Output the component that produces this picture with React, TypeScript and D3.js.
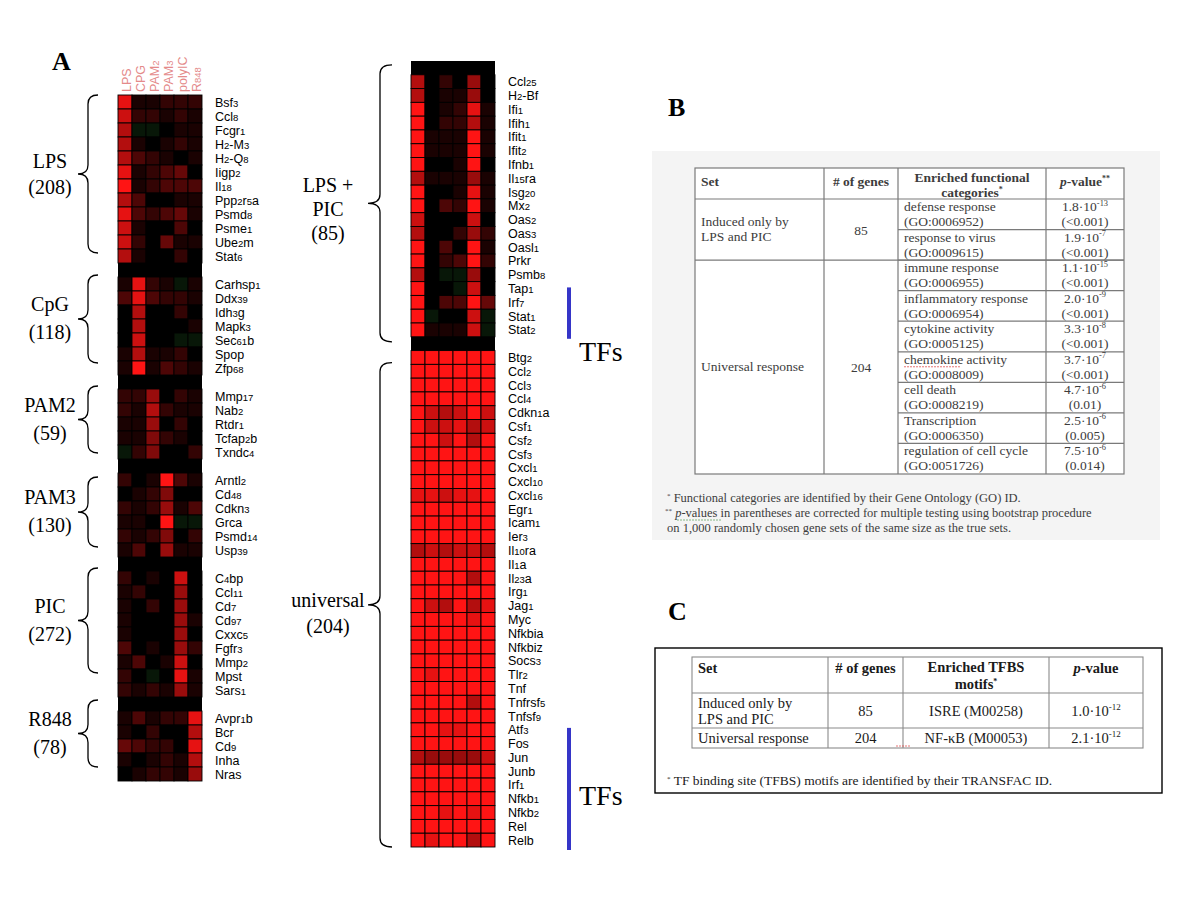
import React from "react";
import * as d3 from "d3";

// stimulus columns of both heatmaps
const conditions = ["LPS", "CPG", "PAM2", "PAM3", "polyIC", "R848"];

// left heatmap: genes induced by a single stimulus (0 = black, 10 = bright red, <0 = green)
const lpsGenes = ["Bsf3", "Ccl8", "Fcgr1", "H2-M3", "H2-Q8", "Iigp2", "Il18", "Ppp2r5a", "Psmd8", "Psme1", "Ube2m", "Stat6"];
const lpsValues = [
  [9, 1, 1, 2, 2, 2], [8, 2, 2, 1, 2, 1], [7, -1, -1, 0, 1, 1], [7, 1, 0, 1, 2, 1],
  [7, 3, 2, 1, 0, 1], [9, 1, 2, 3, 4, 0], [10, 1, 2, 3, 3, 3], [7, 3, 0, 0, 1, 1],
  [9, 3, 2, 3, 4, 1], [8, 1, 0, 0, 3, 0], [8, 2, 0, 4, 1, 1], [7, 1, 0, 0, 2, 0],
];
const cpgGenes = ["Carhsp1", "Ddx39", "Idh3g", "Mapk3", "Sec61b", "Spop", "Zfp68"];
const cpgValues = [
  [1, 9, 2, 1, -1, 1], [3, 9, 3, 2, 2, 1], [0, 7, 0, 0, 2, 0], [0, 7, 0, 0, 0, 1],
  [0, 8, 0, 0, -1, -1], [1, 7, 1, 1, 2, 0], [1, 10, 1, 3, 2, 1],
];
const pam2Genes = ["Mmp17", "Nab2", "Rtdr1", "Tcfap2b", "Txndc4"];
const pam2Values = [
  [2, 2, 6, 0, 2, 1], [2, 1, 7, 2, 1, 1], [1, 1, 6, 0, 2, 0], [1, 1, 5, 2, 1, 0], [-1, 2, 5, 0, 0, 2],
];
const pam3Genes = ["Arntl2", "Cd48", "Cdkn3", "Grca", "Psmd14", "Usp39"];
const pam3Values = [
  [2, 0, 1, 10, 3, 1], [0, 1, 2, 5, 0, 0], [2, 1, 2, 6, 1, 3],
  [1, 1, 0, 10, -1, -1], [2, 1, 2, 5, 0, 2], [1, 3, 0, 6, 1, 1],
];
const picGenes = ["C4bp", "Ccl11", "Cd7", "Cd97", "Cxxc5", "Fgfr3", "Mmp2", "Mpst", "Sars1"];
const picValues = [
  [2, 0, 1, 0, 8, 0], [1, 2, 0, 0, 6, 0], [1, 0, 2, 0, 6, 0], [1, 0, 0, 0, 6, 1], [1, 0, 0, 0, 6, 0],
  [3, 0, 1, 0, 6, 2], [1, 3, 0, 1, 8, 0], [2, 0, -1, 0, 9, 1], [2, 1, 2, 1, 6, 1],
];
const r848Genes = ["Avpr1b", "Bcr", "Cd9", "Inha", "Nras"];
const r848Values = [
  [1, 3, 1, 2, 2, 9], [1, 0, 2, 0, 0, 7], [4, 3, 2, 2, 0, 9], [1, 0, 1, 2, 1, 7], [0, 1, 2, 2, 1, 6],
];

// right heatmap: shared responses
const lpsPicGenes = ["Ccl25", "H2-Bf", "Ifi1", "Ifih1", "Ifit1", "Ifit2", "Ifnb1", "Il15ra", "Isg20", "Mx2",
  "Oas2", "Oas3", "Oasl1", "Prkr", "Psmb8", "Tap1", "Irf7", "Stat1", "Stat2"];
const lpsPicValues = [
  [7, 0, 2, 0, 6, 0], [7, 0, 1, 1, 6, 0], [10, 0, 1, 2, 9, 1], [10, 0, 2, 2, 7, 1], [10, 1, 1, 1, 10, 1],
  [10, 1, 1, 1, 10, 1], [10, 0, 0, 1, 10, 0], [7, 1, 1, 1, 6, 1], [10, 0, 0, 1, 9, 1], [10, 0, 3, 2, 10, 1],
  [8, 0, 0, 0, 8, 0], [7, 0, 0, 2, 6, 2], [10, 0, 3, 0, 10, 1], [10, 0, 2, 3, 10, 2], [7, 0, -1, -1, 6, 0],
  [10, 0, 0, -1, 8, 0], [10, 0, 3, 3, 10, 4], [10, -1, 0, 0, 8, -1], [10, 1, 1, 1, 8, -1],
];
const universalGenes = ["Btg2", "Ccl2", "Ccl3", "Ccl4", "Cdkn1a", "Csf1", "Csf2", "Csf3", "Cxcl1", "Cxcl10",
  "Cxcl16", "Egr1", "Icam1", "Ier3", "Il10ra", "Il1a", "Il23a", "Irg1", "Jag1", "Myc", "Nfkbia", "Nfkbiz",
  "Socs3", "Tlr2", "Tnf", "Tnfrsf5", "Tnfsf9", "Atf3", "Fos", "Jun", "Junb", "Irf1", "Nfkb1", "Nfkb2", "Rel", "Relb"];
const universalValues = [
  [10, 10, 10, 10, 10, 10], [10, 10, 10, 10, 10, 10], [10, 10, 10, 10, 10, 10], [10, 10, 10, 10, 10, 10],
  [10, 8, 7, 8, 10, 8], [10, 8, 8, 9, 7, 8], [10, 10, 8, 10, 7, 10], [10, 10, 10, 10, 10, 10],
  [10, 10, 10, 10, 10, 10], [10, 10, 10, 10, 10, 10], [9, 9, 8, 9, 9, 10], [10, 10, 10, 10, 10, 10],
  [10, 10, 10, 10, 10, 10], [10, 10, 10, 10, 10, 10], [7, 8, 7, 8, 8, 7], [10, 10, 10, 10, 10, 10],
  [10, 10, 10, 10, 7, 10], [10, 10, 10, 10, 10, 10], [10, 8, 7, 10, 7, 9], [10, 10, 10, 10, 9, 10],
  [10, 10, 10, 10, 10, 10], [10, 10, 10, 10, 10, 10], [10, 10, 10, 10, 10, 10], [10, 9, 10, 10, 10, 10],
  [10, 10, 10, 10, 10, 10], [10, 10, 10, 10, 7, 10], [10, 10, 10, 10, 10, 10], [10, 10, 9, 9, 10, 10],
  [10, 10, 10, 10, 10, 10], [7, 6, 6, 6, 6, 8], [10, 10, 10, 10, 10, 10], [10, 10, 10, 10, 10, 10],
  [10, 10, 10, 10, 10, 10], [10, 10, 9, 10, 9, 10], [10, 10, 10, 10, 10, 10], [10, 9, 10, 10, 7, 10],
];

// table B
const tableBSets = [["Induced only by", "LPS and PIC"], ["Universal response"]];
const tableBGeneCounts = ["85", "204"];
const tableBSpans = [2, 7];
const tableBCategories = ["defense response", "response to virus", "immune response", "inflammatory response",
  "cytokine activity", "chemokine activity", "cell death", "Transcription", "regulation of cell cycle"];
const tableBGoIds = ["GO:0006952", "GO:0009615", "GO:0006955", "GO:0006954", "GO:0005125",
  "GO:0008009", "GO:0008219", "GO:0006350", "GO:0051726"];
const tableBMantissas = ["1.8", "1.9", "1.1", "2.0", "3.3", "3.7", "4.7", "2.5", "7.5"];
const tableBExponents = ["-13", "-7", "-15", "-9", "-8", "-7", "-6", "-6", "-6"];
const tableBCorrected = ["(<0.001)", "(<0.001)", "(<0.001)", "(<0.001)", "(<0.001)", "(<0.001)", "(0.01)", "(0.005)", "(0.014)"];
const tableBNotes = [
  "Functional categories are identified by their Gene Ontology (GO) ID.",
  "p-values in parentheses are corrected for multiple testing using bootstrap procedure",
  "on 1,000 randomly chosen gene sets of the same size as the true sets.",
];

// table C
const tableCSets = [["Induced only by", "LPS and PIC"], ["Universal response"]];
const tableCGeneCounts = ["85", "204"];
const tableCMotifs = ["ISRE (M00258)", "NF-\u03baB (M00053)"];
const tableCMantissas = ["1.0", "2.1"];
const tableCExponents = ["-12", "-12"];
const tableCNote = "TF binding site (TFBS) motifs are identified by their TRANSFAC ID.";

const SERIF = "'Liberation Serif', 'Times New Roman', serif";
const SANS = "'Liberation Sans', Arial, sans-serif";

const posColor = d3.interpolateRgb("#000000", "#ff1414");
const negColor = d3.interpolateRgb("#000000", "#1f5a1f");
const cellColor = (v: number) => (v >= 0 ? posColor(v / 10) : negColor(-v / 4));

// digits drawn smaller, like the original gene labels
function smallDigits(name: string, big: number, small: number) {
  return name.split(/(\d+)/).filter((s) => s !== "").map((s, i) => (
    <tspan key={i} fontSize={/^\d+$/.test(s) ? small : big}>{s}</tspan>
  ));
}

function bracePath(xTip: number, xEnd: number, y0: number, y1: number) {
  const xm = (xTip + xEnd) / 2;
  const mid = (y0 + y1) / 2;
  const r = 9;
  const p = d3.path();
  p.moveTo(xEnd, y0);
  p.quadraticCurveTo(xm, y0, xm, y0 + r);
  p.lineTo(xm, mid - r);
  p.quadraticCurveTo(xm, mid, xTip, mid);
  p.quadraticCurveTo(xm, mid, xm, mid + r);
  p.lineTo(xm, y1 - r);
  p.quadraticCurveTo(xm, y1, xEnd, y1);
  return p.toString();
}

type Group = { genes: string[]; values: number[][]; label: string[] };
type Row = { gene: string | null; values: number[] | null };

function buildRows(groups: Group[], leadGap: boolean) {
  const rows: Row[] = [];
  if (leadGap) rows.push({ gene: null, values: null });
  const spans: { start: number; end: number }[] = [];
  groups.forEach((g, gi) => {
    if (gi > 0) rows.push({ gene: null, values: null });
    const start = rows.length;
    g.genes.forEach((gene, i) => rows.push({ gene, values: g.values[i] }));
    spans.push({ start, end: rows.length - 1 });
  });
  return { rows, spans };
}

function Heatmap(props: {
  groups: Group[]; leadGap: boolean; x0: number; x1: number; y0: number; y1: number;
  labelX: number; braceTip: number; braceEnd: number; textX: number;
  bracePad: [number, number][]; labelBase: number[][]; showHeader?: boolean;
}) {
  const { groups, leadGap, x0, x1, y0, y1 } = props;
  const { rows, spans } = buildRows(groups, leadGap);
  const x = d3.scaleBand<string>().domain(conditions).range([x0, x1]);
  const y = d3.scaleBand<number>().domain(d3.range(rows.length)).range([y0, y1]);
  const bw = x.bandwidth();
  const bh = y.bandwidth();
  return (
    <g>
      <rect x={x0} y={y0} width={x1 - x0} height={y1 - y0} fill="#000" />
      {rows.map((r, ri) =>
        r.values
          ? r.values.map((v, ci) => (
              <rect key={`${ri}-${ci}`} x={x(conditions[ci])} y={y(ri)} width={bw} height={bh}
                fill={cellColor(v)} stroke="#000" strokeWidth={0.9} />
            ))
          : null
      )}
      {rows.map((r, ri) =>
        r.gene ? (
          <text key={`l${ri}`} x={props.labelX} y={(y(ri) as number) + bh / 2 + 4.5}
            fontFamily={SANS} fill="#000">{smallDigits(r.gene, 12.5, 9.5)}</text>
        ) : null
      )}
      {props.showHeader &&
        conditions.map((c) => (
          <text key={c} transform={`translate(${(x(c) as number) + bw / 2},${y0 - 3}) rotate(-90)`}
            dy="0.36em" fontFamily={SANS} fill="#e48a8a">{smallDigits(c, 12.5, 9.5)}</text>
        ))}
      {spans.map((s, gi) => {
        const top = (y(s.start) as number) + props.bracePad[gi][0];
        const bottom = (y(s.end) as number) + bh + props.bracePad[gi][1];
        const mid = (top + bottom) / 2;
        return (
          <g key={`b${gi}`}>
            <path d={bracePath(props.braceTip, props.braceEnd, top, bottom)} fill="none" stroke="#000" strokeWidth={1.3} />
            {groups[gi].label.map((t, li) => (
              <text key={li} x={props.textX} y={mid + props.labelBase[gi][li]} textAnchor="middle"
                fontFamily={SERIF} fontSize={20} fill="#000">{t}</text>
            ))}
          </g>
        );
      })}
    </g>
  );
}

function PValue(props: { x: number; y: number; m: string; e: string; size: number; color: string }) {
  return (
    <text x={props.x} y={props.y} textAnchor="middle" fontFamily={SERIF} fontSize={props.size} fill={props.color}>
      {props.m}{"\u00b710"}
      <tspan dy={-props.size * 0.4} fontSize={props.size * 0.62}>{props.e}</tspan>
    </text>
  );
}

function TableB() {
  const cols = [695, 824, 898, 1046, 1124];
  const top = 168;
  const headBottom = 199;
  const rowH = (474 - headBottom) / tableBCategories.length;
  const ink = "#3c3c3c";
  const line = "#7a7a7a";
  const fs = 13.5;
  const rowTop = (i: number) => headBottom + i * rowH;
  let acc = 0;
  const setBlocks = tableBSets.map((s, i) => {
    const start = acc;
    acc += tableBSpans[i];
    return { name: s, count: tableBGeneCounts[i], start, end: acc };
  });
  return (
    <g>
      <rect x={652} y={151} width={508} height={389} fill="#f4f4f4" />
      <rect x={cols[0]} y={top} width={cols[4] - cols[0]} height={rowTop(tableBCategories.length) - top} fill="#fff" stroke={line} strokeWidth={1.2} />
      <line x1={cols[0]} x2={cols[4]} y1={headBottom} y2={headBottom} stroke={line} strokeWidth={1.2} />
      {cols.slice(1, 4).map((c) => (
        <line key={c} x1={c} x2={c} y1={top} y2={rowTop(tableBCategories.length)} stroke={line} strokeWidth={1.2} />
      ))}
      {setBlocks.map((b, i) => (i > 0 ? (
        <line key={i} x1={cols[0]} x2={cols[4]} y1={rowTop(b.start)} y2={rowTop(b.start)} stroke={line} strokeWidth={1.2} />
      ) : null))}
      {tableBCategories.map((c, i) => (i > 0 ? (
        <line key={c} x1={cols[2]} x2={cols[4]} y1={rowTop(i)} y2={rowTop(i)} stroke={line} strokeWidth={1.2} />
      ) : null))}
      <g fontFamily={SERIF} fontSize={fs} fill={ink}>
        <text x={cols[0] + 6} y={top + 18} fontWeight="bold">Set</text>
        <text x={(cols[1] + cols[2]) / 2} y={top + 18} fontWeight="bold" textAnchor="middle"># of genes</text>
        <text x={(cols[2] + cols[3]) / 2} y={top + 14} fontWeight="bold" textAnchor="middle">Enriched functional</text>
        <text x={(cols[2] + cols[3]) / 2} y={top + 29} fontWeight="bold" textAnchor="middle">
          categories<tspan dy={-5} fontSize={8}>*</tspan>
        </text>
        <text x={(cols[3] + cols[4]) / 2} y={top + 18} fontWeight="bold" textAnchor="middle">
          <tspan fontStyle="italic">p</tspan>-value<tspan dy={-5} fontSize={8}>**</tspan>
        </text>
        {setBlocks.map((b, i) => {
          const mid = (rowTop(b.start) + rowTop(b.end)) / 2;
          return (
            <g key={i}>
              {b.name.map((t, li) => (
                <text key={li} x={cols[0] + 6} y={mid + 4 + (li - (b.name.length - 1) / 2) * 15}>{t}</text>
              ))}
              <text x={(cols[1] + cols[2]) / 2} y={mid + 5} textAnchor="middle">{b.count}</text>
            </g>
          );
        })}
        {tableBCategories.map((c, i) => (
          <g key={c}>
            <text x={cols[2] + 6} y={rowTop(i) + 12}>{c}</text>
            <text x={cols[2] + 6} y={rowTop(i) + 27}>({tableBGoIds[i]})</text>
            <text x={(cols[3] + cols[4]) / 2} y={rowTop(i) + 27} textAnchor="middle">{tableBCorrected[i]}</text>
          </g>
        ))}
      </g>
      {tableBCategories.map((c, i) => (
        <PValue key={c} x={(cols[3] + cols[4]) / 2} y={rowTop(i) + 12} m={tableBMantissas[i]} e={tableBExponents[i]} size={fs} color={ink} />
      ))}
      {/* spell-check squiggle under "chemokine" */}
      <line x1={cols[2] + 6} x2={cols[2] + 62} y1={rowTop(5) + 15} y2={rowTop(5) + 15} stroke="#e05050" strokeWidth={0.8} strokeDasharray="2 1" />
      <g fontFamily={SERIF} fontSize={12.5} fill={ink}>
        <text x={667} y={502}><tspan dy={-4} fontSize={7}>*</tspan><tspan dy={4}> {tableBNotes[0]}</tspan></text>
        <text x={665} y={517}>
          <tspan dy={-4} fontSize={7}>**</tspan>
          <tspan dy={4}> </tspan>
          <tspan fontStyle="italic">p</tspan>{tableBNotes[1].slice(1)}
        </text>
        <text x={667} y={532}>{tableBNotes[2]}</text>
      </g>
      <line x1={677} x2={722} y1={520} y2={520} stroke="#6aa86a" strokeWidth={0.8} strokeDasharray="2 1" />
    </g>
  );
}

function TableC() {
  const cols = [692, 828, 903, 1049, 1143];
  const rows = [657, 693, 728, 748];
  const line = "#8a8a8a";
  const ink = "#1a1a1a";
  const fs = 14.5;
  return (
    <g>
      <rect x={655} y={648} width={507} height={145} fill="#fff" stroke="#000" strokeWidth={1.4} />
      <rect x={cols[0]} y={rows[0]} width={cols[4] - cols[0]} height={rows[3] - rows[0]} fill="none" stroke={line} strokeWidth={1.1} />
      {rows.slice(1, 3).map((r) => (
        <line key={r} x1={cols[0]} x2={cols[4]} y1={r} y2={r} stroke={line} strokeWidth={1.1} />
      ))}
      {cols.slice(1, 4).map((c) => (
        <line key={c} x1={c} x2={c} y1={rows[0]} y2={rows[3]} stroke={line} strokeWidth={1.1} />
      ))}
      <g fontFamily={SERIF} fontSize={fs} fill={ink}>
        <text x={cols[0] + 6} y={rows[0] + 16} fontWeight="bold">Set</text>
        <text x={(cols[1] + cols[2]) / 2} y={rows[0] + 16} fontWeight="bold" textAnchor="middle"># of genes</text>
        <text x={(cols[2] + cols[3]) / 2} y={rows[0] + 15} fontWeight="bold" textAnchor="middle">Enriched TFBS</text>
        <text x={(cols[2] + cols[3]) / 2} y={rows[0] + 32} fontWeight="bold" textAnchor="middle">
          motifs<tspan dy={-5} fontSize={8}>*</tspan>
        </text>
        <text x={(cols[3] + cols[4]) / 2} y={rows[0] + 16} fontWeight="bold" textAnchor="middle">
          <tspan fontStyle="italic">p</tspan>-value
        </text>
        {tableCSets.map((s, i) => {
          const mid = (rows[i + 1] + rows[i + 2]) / 2;
          return (
            <g key={i}>
              {s.map((t, li) => (
                <text key={li} x={cols[0] + 6} y={mid + 5 + (li - (s.length - 1) / 2) * 16}>{t}</text>
              ))}
              <text x={(cols[1] + cols[2]) / 2} y={mid + 5} textAnchor="middle">{tableCGeneCounts[i]}</text>
              <text x={(cols[2] + cols[3]) / 2} y={mid + 5} textAnchor="middle">{tableCMotifs[i]}</text>
            </g>
          );
        })}
        <text x={667} y={785} fontSize={13.5}>
          <tspan dy={-4} fontSize={7}>*</tspan><tspan dy={4}> {tableCNote}</tspan>
        </text>
      </g>
      {tableCSets.map((s, i) => (
        <PValue key={i} x={(cols[3] + cols[4]) / 2} y={(rows[i + 1] + rows[i + 2]) / 2 + 5}
          m={tableCMantissas[i]} e={tableCExponents[i]} size={fs} color={ink} />
      ))}
      <line x1={896} x2={910} y1={746} y2={746} stroke="#e05050" strokeWidth={0.8} strokeDasharray="2 1" />
    </g>
  );
}

export default function App() {
  const leftGroups: Group[] = [
    { genes: lpsGenes, values: lpsValues, label: ["LPS", "(208)"] },
    { genes: cpgGenes, values: cpgValues, label: ["CpG", "(118)"] },
    { genes: pam2Genes, values: pam2Values, label: ["PAM2", "(59)"] },
    { genes: pam3Genes, values: pam3Values, label: ["PAM3", "(130)"] },
    { genes: picGenes, values: picValues, label: ["PIC", "(272)"] },
    { genes: r848Genes, values: r848Values, label: ["R848", "(78)"] },
  ];
  const rightGroups: Group[] = [
    { genes: lpsPicGenes, values: lpsPicValues, label: ["LPS +", "PIC", "(85)"] },
    { genes: universalGenes, values: universalValues, label: ["universal", "(204)"] },
  ];
  const rightRows = buildRows(rightGroups, true).rows;
  const ry = d3.scaleBand<number>().domain(d3.range(rightRows.length)).range([61, 847]);
  const irf7 = lpsPicGenes.indexOf("Irf7") + 1;
  const atf3 = lpsPicGenes.length + 2 + universalGenes.indexOf("Atf3");
  const tfColor = "#3535c8";

  return (
    <svg width={1200} height={901} style={{ position: "absolute", left: 0, top: 0, background: "#fff" }}>
      <rect width={1200} height={901} fill="#fff" />
      <text x={52} y={70} fontFamily={SERIF} fontSize={26} fontWeight="bold">A</text>
      <text x={668} y={116} fontFamily={SERIF} fontSize={26} fontWeight="bold">B</text>
      <text x={668} y={620} fontFamily={SERIF} fontSize={26} fontWeight="bold">C</text>

      <Heatmap groups={leftGroups} leadGap={false} x0={118} x1={202} y0={95} y1={781}
        labelX={215} braceTip={78} braceEnd={98} textX={50} showHeader
        bracePad={[[0, -10], [-2, -12], [-3, -6], [4, -10], [-3, -24], [-11, -14]]}
        labelBase={[[-6, 20], [-8, 20], [-8, 20], [-8, 20], [-8, 20], [-8, 20]]} />

      <Heatmap groups={rightGroups} leadGap={true} x0={411} x1={495} y0={61} y1={847}
        labelX={508} braceTip={368} braceEnd={392} textX={328}
        bracePad={[[-10, 5], [12, 0]]}
        labelBase={[[-11, 13, 37], [2, 28]]} />

      <rect x={567} y={(ry(irf7) as number) - 8} width={4} height={ry.bandwidth() * 3 + 10} fill={tfColor} />
      <text x={579} y={361} fontFamily={SERIF} fontSize={28}>TFs</text>
      <rect x={567} y={(ry(atf3) as number) + 5} width={4} height={847 - (ry(atf3) as number) - 2} fill={tfColor} />
      <text x={579} y={805} fontFamily={SERIF} fontSize={28}>TFs</text>

      <TableB />
      <TableC />
    </svg>
  );
}
